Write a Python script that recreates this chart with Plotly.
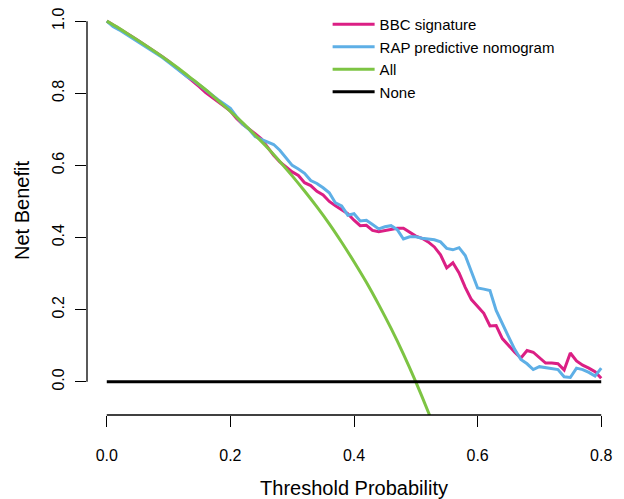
import plotly.graph_objects as go

# Threshold probabilities (0.00 .. 0.80 in steps of 0.01)
thresholds = [round(i * 0.01, 2) for i in range(81)]

bbc_signature = [
    1.000, 0.990, 0.980, 0.969, 0.958, 0.947, 0.936, 0.925, 0.913, 0.901,
    0.889, 0.875, 0.862, 0.848, 0.834, 0.818, 0.802, 0.790, 0.778, 0.764,
    0.751, 0.730, 0.714, 0.702, 0.688, 0.674, 0.650, 0.628, 0.610, 0.596,
    0.582, 0.572, 0.552, 0.544, 0.528, 0.518, 0.500, 0.488, 0.476, 0.466,
    0.448, 0.433, 0.434, 0.420, 0.416, 0.420, 0.424, 0.426, 0.426, 0.415,
    0.404, 0.398, 0.388, 0.374, 0.352, 0.316, 0.330, 0.302, 0.262, 0.228,
    0.210, 0.190, 0.155, 0.156, 0.120, 0.100, 0.082, 0.066, 0.087, 0.082,
    0.066, 0.052, 0.052, 0.050, 0.033, 0.080, 0.058, 0.046, 0.038, 0.028,
    0.010,
]

rap_nomogram = [
    1.000, 0.985, 0.976, 0.965, 0.955, 0.945, 0.934, 0.922, 0.910, 0.899,
    0.886, 0.872, 0.860, 0.846, 0.836, 0.822, 0.808, 0.794, 0.782, 0.770,
    0.758, 0.735, 0.714, 0.700, 0.680, 0.672, 0.666, 0.658, 0.642, 0.622,
    0.600, 0.590, 0.578, 0.558, 0.550, 0.538, 0.524, 0.496, 0.488, 0.462,
    0.466, 0.446, 0.448, 0.436, 0.424, 0.430, 0.433, 0.422, 0.396, 0.402,
    0.402, 0.398, 0.396, 0.394, 0.388, 0.370, 0.366, 0.372, 0.350, 0.302,
    0.260, 0.257, 0.253, 0.198, 0.160, 0.125, 0.090, 0.062, 0.050, 0.034,
    0.042, 0.040, 0.038, 0.034, 0.014, 0.012, 0.038, 0.034, 0.026, 0.016,
    0.038,
]

# "All" strategy curve
all_x = [0.00, 0.02, 0.04, 0.06, 0.08, 0.10, 0.12, 0.14, 0.16, 0.18, 0.20,
         0.22, 0.24, 0.26, 0.28, 0.30, 0.32, 0.34, 0.36, 0.38, 0.40, 0.42,
         0.44, 0.46, 0.48, 0.50, 0.52, 0.53]
all_y = [1.000, 0.980, 0.958, 0.936, 0.913, 0.889, 0.864, 0.837, 0.810, 0.780,
         0.750, 0.718, 0.684, 0.649, 0.611, 0.571, 0.529, 0.485, 0.438, 0.387,
         0.333, 0.276, 0.214, 0.148, 0.077, 0.000, -0.083, -0.128]

none_x = [0.0, 0.8]
none_y = [0.0, 0.0]

x_ticks = [0.0, 0.2, 0.4, 0.6, 0.8]
x_tick_labels = ["0.0", "0.2", "0.4", "0.6", "0.8"]
y_ticks = [0.0, 0.2, 0.4, 0.6, 0.8, 1.0]
y_tick_labels = ["0.0", "0.2", "0.4", "0.6", "0.8", "1.0"]

FONT = "Liberation Sans, Arial, Helvetica, sans-serif"

fig = go.Figure()
fig.add_trace(go.Scatter(x=thresholds, y=bbc_signature, mode="lines",
                         name="BBC signature",
                         line=dict(color="#DB1F84", width=3)))
fig.add_trace(go.Scatter(x=thresholds, y=rap_nomogram, mode="lines",
                         name="RAP predictive nomogram",
                         line=dict(color="#5EAFE6", width=3)))
fig.add_trace(go.Scatter(x=all_x, y=all_y, mode="lines", name="All",
                         line=dict(color="#7DC443", width=3, shape="spline")))
fig.add_trace(go.Scatter(x=none_x, y=none_y, mode="lines", name="None",
                         line=dict(color="#000000", width=3)))

# R-style axis lines spanning only the tick range
fig.add_shape(type="line", xref="paper", yref="y", x0=0, x1=0, y0=0, y1=1,
              line=dict(color="black", width=1.3))
fig.add_shape(type="line", xref="x", yref="paper", x0=0, x1=0.8, y0=0, y1=0,
              line=dict(color="black", width=1.3))

fig.update_layout(
    width=624, height=499,
    margin=dict(l=87, r=3, t=6, b=84, autoexpand=False),
    paper_bgcolor="white", plot_bgcolor="white",
    font=dict(family=FONT, color="black", size=16),
    showlegend=True,
    legend=dict(x=0.4506, y=0.995, xanchor="left", yanchor="top",
                bgcolor="rgba(0,0,0,0)", borderwidth=0, itemwidth=42,
                font=dict(size=15, family=FONT), tracegroupgap=0),
    xaxis=dict(range=[-0.032, 0.832], tickvals=x_ticks, ticktext=x_tick_labels,
               ticks="outside", ticklen=11, tickwidth=1.3, tickcolor="black",
               showgrid=False, zeroline=False, showline=False, automargin=False,
               tickfont=dict(size=16), ticklabelstandoff=15,
               title=dict(text="Threshold Probability", font=dict(size=20),
                          standoff=17)),
    yaxis=dict(range=[-0.092, 1.042], tickvals=y_ticks, ticktext=y_tick_labels,
               ticks="outside", ticklen=11, tickwidth=1.3, tickcolor="black",
               tickangle=-90, showgrid=False, zeroline=False, showline=False,
               automargin=False,
               tickfont=dict(size=16), ticklabelstandoff=5,
               title=dict(text="Net Benefit", font=dict(size=20), standoff=14)),
)

fig.write_html("out.html", config={"displayModeBar": False},
               post_script="document.body.style.margin='0';")
